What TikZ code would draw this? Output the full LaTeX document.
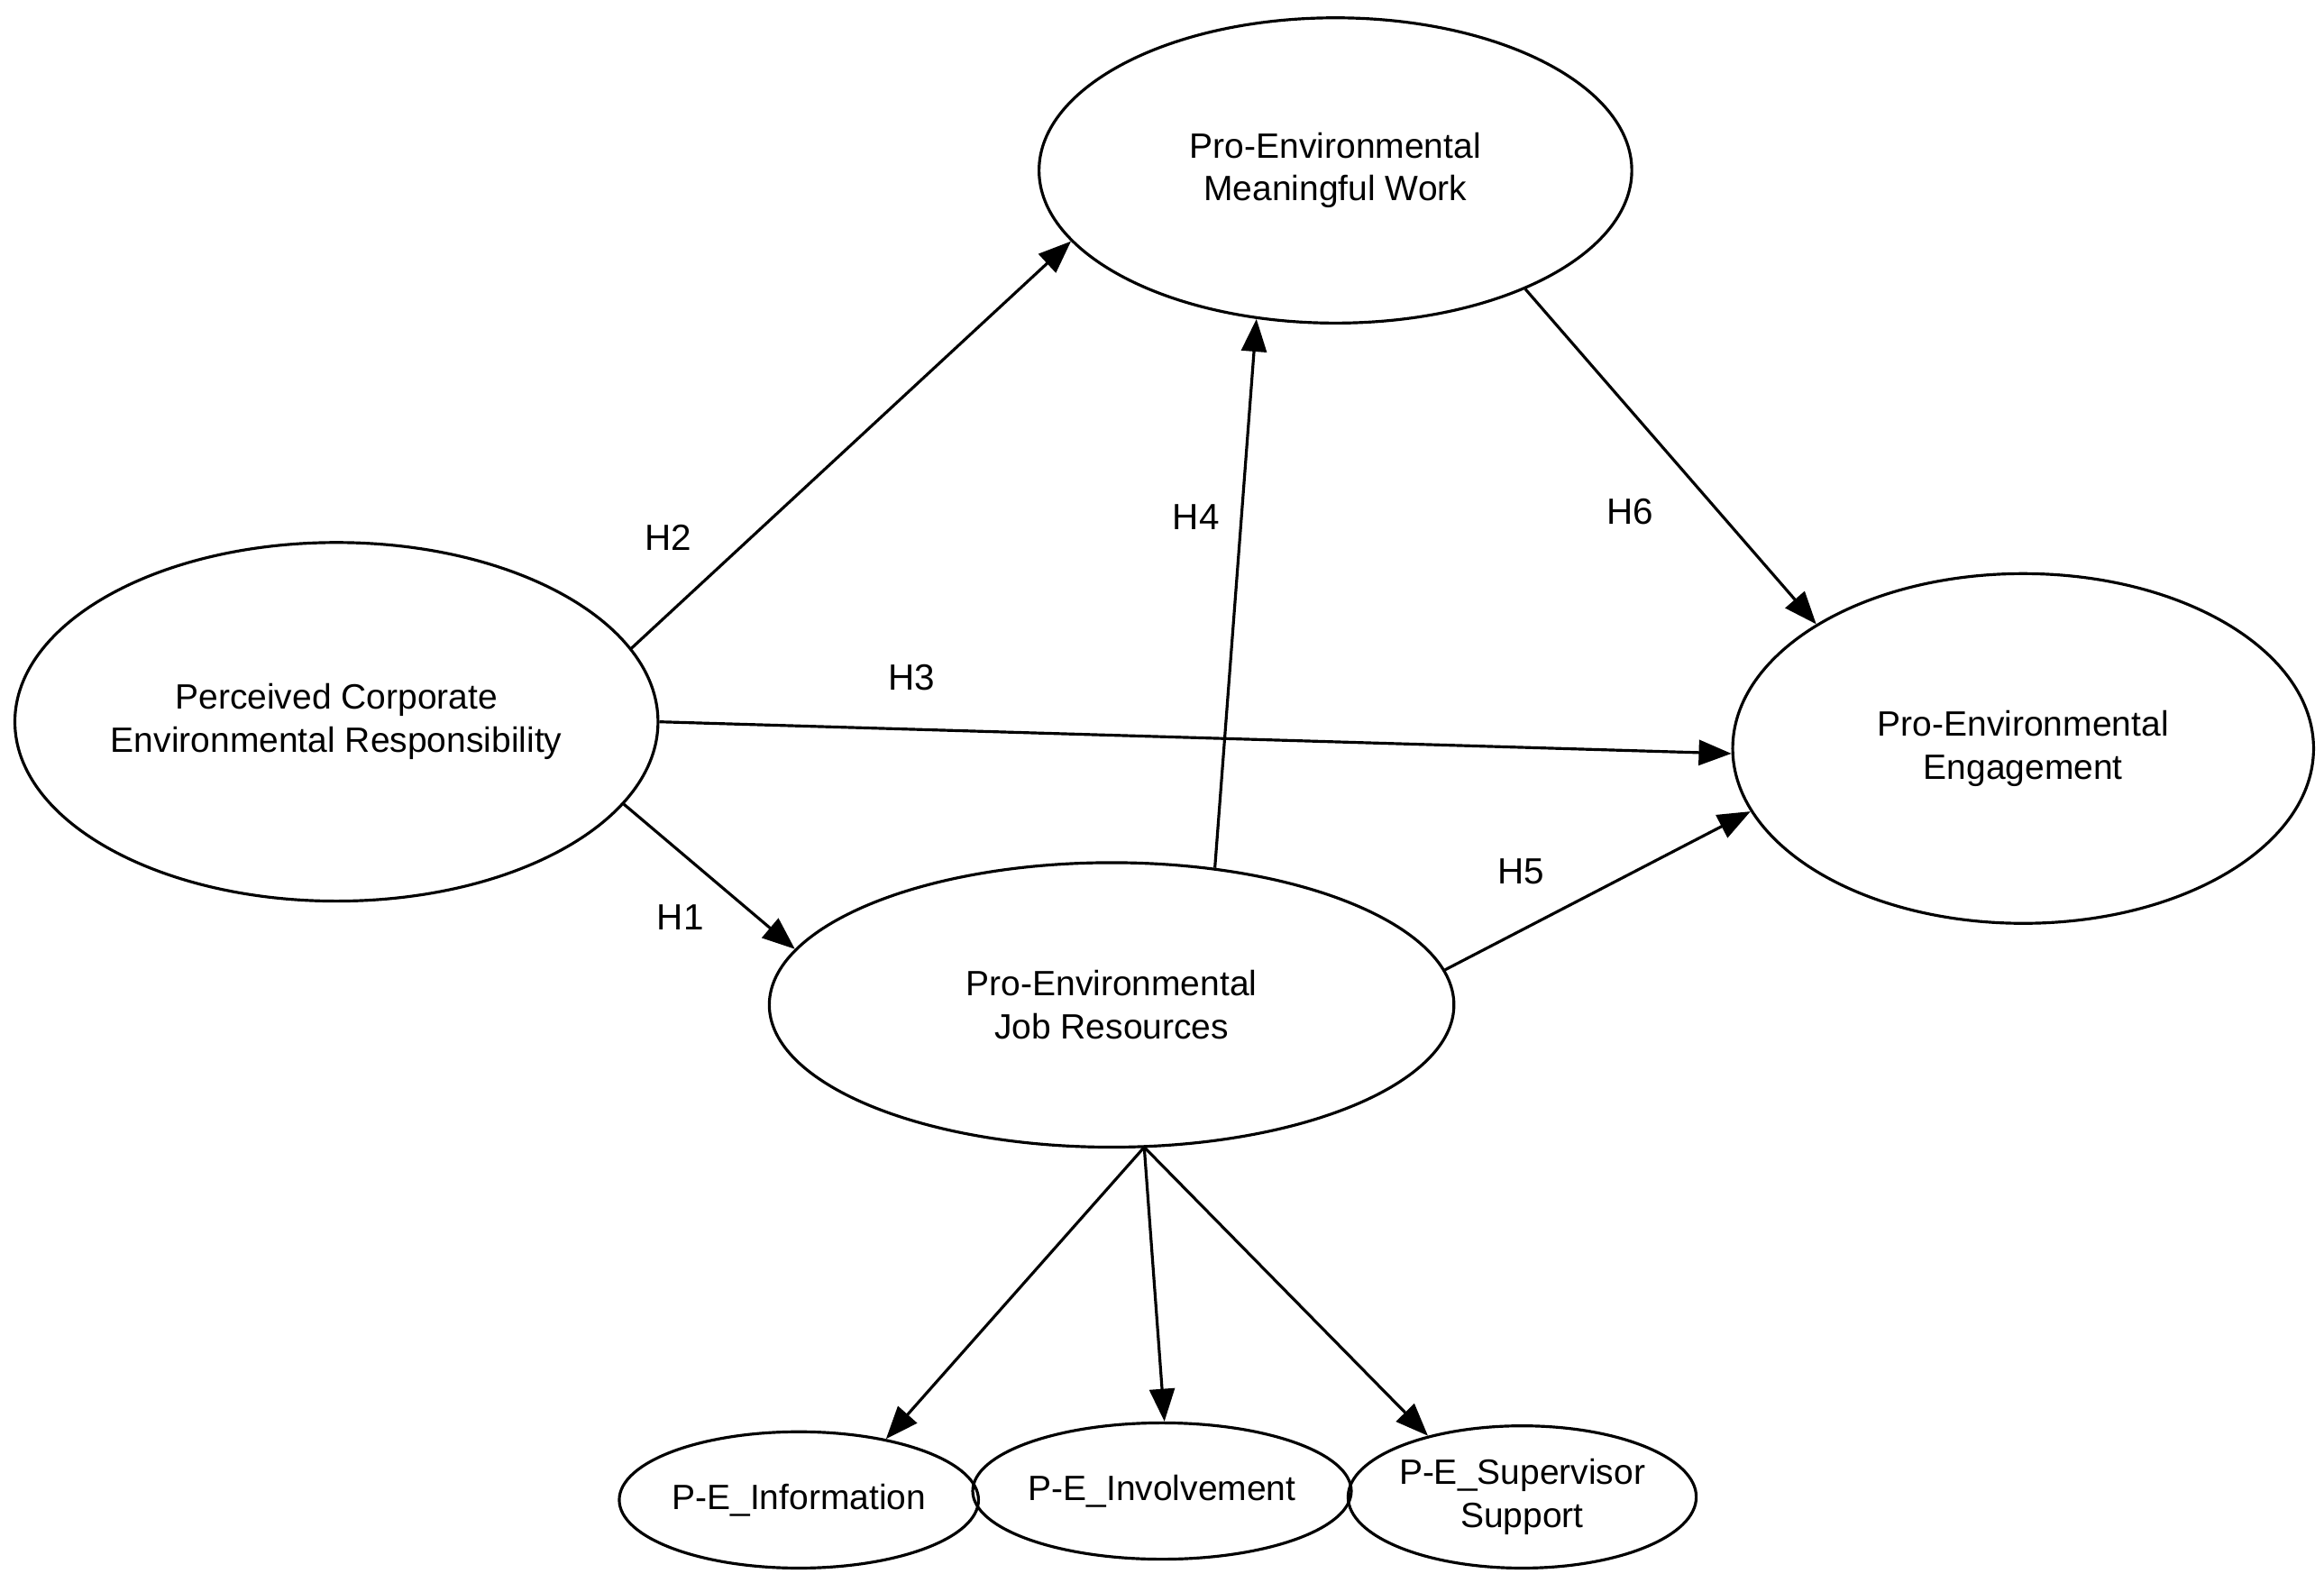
\documentclass[tikz,border=0pt]{standalone}
\usepackage{fontspec}
\setmainfont{Liberation Sans}
\usetikzlibrary{shapes.geometric,arrows.meta}
\begin{document}
\begin{tikzpicture}[x=0.02cm,y=-0.02cm,
  lat/.style={draw,ellipse,line width=1.1pt,inner sep=0pt,align=center,font=\fontsize{13.5}{16.5}\selectfont},
  arr/.style={line width=1.1pt,-{Triangle[length=0.44cm,width=0.34cm]}},
  lab/.style={font=\fontsize{14}{16}\selectfont}]
\useasboundingbox (0,0) rectangle (1568,1074);
\node[lat,minimum width=8cm,minimum height=4.12cm] (mw) at (901,115) {Pro-Environmental\\Meaningful Work};
\node[lat,minimum width=8.68cm,minimum height=4.84cm] (pc) at (227,487) {Perceived Corporate\\Environmental Responsibility};
\node[lat,minimum width=9.24cm,minimum height=3.84cm] (jr) at (750,678) {Pro-Environmental\\Job Resources};
\node[lat,minimum width=7.84cm,minimum height=4.72cm] (en) at (1365,505) {Pro-Environmental\\Engagement};
\node[lat,minimum width=4.2cm,minimum height=1.84cm] (inf) at (539,1012) {P-E\_Information};
\node[lat,minimum width=4.28cm,minimum height=1.84cm] (inv) at (784,1006) {P-E\_Involvement};
\node[lat,minimum width=4.52cm,minimum height=1.92cm] (sup) at (1027,1010) {P-E\_Supervisor\\Support};
\coordinate (jb) at (772,774);
\draw[arr] (pc.14) -- (mw.195);
\draw[arr] (pc.0) -- (en.181);
\draw[arr] (pc.-16) -- (jr.170);
\draw[arr] (jr.53) -- (mw.242);
\draw[arr] (mw.-32) -- (en.149);
\draw[arr] (jr.6) -- (en.193);
\draw[arr] (jb) -- (inf.35);
\draw[arr] (jb) -- (inv.88);
\draw[arr] (jb) -- (sup.147);
\node[lab] (h2) at (451,363) {H2};
\node[lab] (h3) at (615,457) {H3};
\node[lab] (h1) at (459,619) {H1};
\node[lab] (h4) at (807,349) {H4};
\node[lab] (h6) at (1100,345) {H6};
\node[lab] (h5) at (1026,588) {H5};
\end{tikzpicture}
\end{document}
